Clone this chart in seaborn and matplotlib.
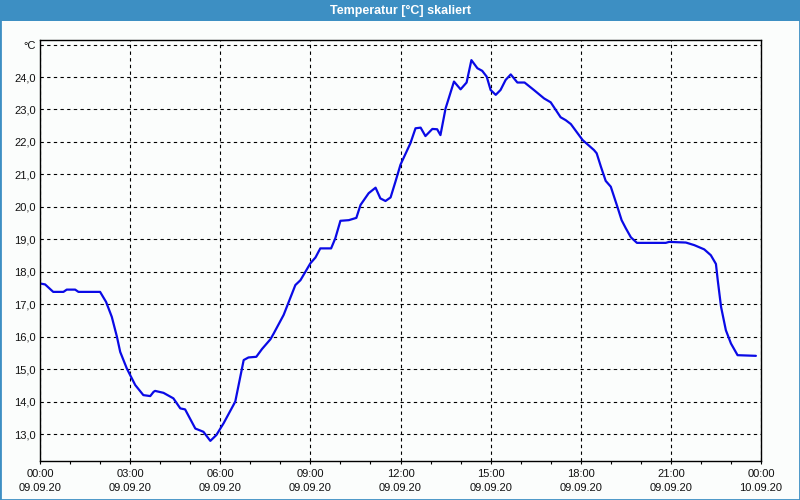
import matplotlib
matplotlib.use("Agg")
import matplotlib.pyplot as plt
from matplotlib.patches import Rectangle
from matplotlib.ticker import FixedLocator, NullFormatter
import seaborn as sns
import pandas as pd

# ---- data ----
hours = [0.0, 0.17, 0.44, 0.78, 0.89, 1.17, 1.28, 2.0, 2.2, 2.39, 2.56, 2.67, 2.89,
         3.17, 3.44, 3.67, 3.78, 3.83, 4.11, 4.44, 4.67, 4.83, 5.17, 5.44, 5.67,
         5.87, 6.11, 6.5, 6.78, 6.94, 7.2, 7.39, 7.67, 7.78, 8.11, 8.5, 8.67, 9.0,
         9.17, 9.33, 9.69, 9.83, 10.0, 10.28, 10.53, 10.67, 10.94, 11.17, 11.33,
         11.5, 11.67, 11.83, 12.0, 12.33, 12.5, 12.67, 12.83, 13.06, 13.22, 13.33,
         13.5, 13.78, 14.0, 14.2, 14.36, 14.56, 14.72, 14.87, 15.0, 15.17, 15.33,
         15.5, 15.67, 15.89, 16.13, 16.44, 16.78, 17.0, 17.33, 17.5, 17.67, 18.06,
         18.44, 18.53, 18.67, 18.83, 19.0, 19.22, 19.36, 19.5, 19.67, 19.87, 20.83,
         20.94, 21.5, 21.78, 22.11, 22.33, 22.5, 22.56, 22.67, 22.83, 23.0, 23.22,
         23.83]
temperature = [17.64, 17.61, 17.38, 17.38, 17.45, 17.45, 17.38, 17.38, 17.07, 16.61,
               16.0, 15.53, 15.02, 14.51, 14.2, 14.17, 14.3, 14.33, 14.27, 14.1,
               13.79, 13.76, 13.17, 13.07, 12.79, 12.97, 13.33, 14.0, 15.28, 15.36,
               15.38, 15.62, 15.92, 16.10, 16.67, 17.59, 17.74, 18.26, 18.44, 18.72,
               18.72, 19.03, 19.57, 19.59, 19.66, 20.06, 20.42, 20.59, 20.26, 20.18,
               20.29, 20.77, 21.30, 21.96, 22.42, 22.44, 22.18, 22.40, 22.39, 22.21,
               23.03, 23.86, 23.62, 23.83, 24.52, 24.27, 24.19, 24.01, 23.60, 23.45,
               23.60, 23.91, 24.08, 23.83, 23.83, 23.60, 23.34, 23.22, 22.76, 22.67,
               22.55, 22.06, 21.75, 21.65, 21.24, 20.80, 20.62, 20.0, 19.59, 19.34,
               19.06, 18.89, 18.89, 18.92, 18.90, 18.82, 18.69, 18.51, 18.24, 17.74,
               16.92, 16.20, 15.79, 15.43, 15.41]

x_tick_hours = [0, 3, 6, 9, 12, 15, 18, 21, 24]
x_tick_labels = ["00:00\n09.09.20", "03:00\n09.09.20", "06:00\n09.09.20",
                 "09:00\n09.09.20", "12:00\n09.09.20", "15:00\n09.09.20",
                 "18:00\n09.09.20", "21:00\n09.09.20", "00:00\n10.09.20"]
y_tick_values = [13, 14, 15, 16, 17, 18, 19, 20, 21, 22, 23, 24, 25]
y_tick_labels = ["13,0", "14,0", "15,0", "16,0", "17,0", "18,0", "19,0", "20,0",
                 "21,0", "22,0", "23,0", "24,0", "°C"]
title = "Temperatur [°C] skaliert"

# ---- style ----
sns.set_style("white")
plt.rcParams["font.family"] = ["Liberation Sans", "DejaVu Sans"]

BG = "#fbfdfc"
BAR = "#3d8fc3"

fig = plt.figure(figsize=(8, 5), dpi=100, facecolor=BG)
ax = fig.add_axes([40 / 800, 1 - 461 / 500, 721 / 800, 421 / 500])
ax.set_facecolor(BG)

df = pd.DataFrame({"h": hours, "t": temperature})
sns.lineplot(data=df, x="h", y="t", ax=ax, color="#0a0ae6", linewidth=1.6,
             sort=False, estimator=None)

ax.set_xlim(0, 24)
ax.set_ylim(12.17, 25.14)
ax.set_xlabel("")
ax.set_ylabel("")

ax.xaxis.set_major_locator(FixedLocator(x_tick_hours))
ax.set_xticklabels(x_tick_labels)
ax.xaxis.set_minor_locator(FixedLocator(list(range(0, 25))))
ax.xaxis.set_minor_formatter(NullFormatter())
ax.set_yticks(y_tick_values)
ax.set_yticklabels(y_tick_labels)

ax.tick_params(axis="x", which="both", direction="out", length=2.5, width=0.8,
               color="black", labelsize=8, labelcolor="#111111", pad=3.5, bottom=True)
ax.tick_params(axis="y", length=0, labelsize=8, labelcolor="#111111", pad=3, left=True)
for lab in ax.get_xticklabels():
    lab.set_linespacing(1.45)

ax.grid(True, which="major", color="black", linestyle=(0, (3, 3)), linewidth=0.8)
for s in ax.spines.values():
    s.set_visible(True)
    s.set_color("black")
    s.set_linewidth(1.0)

# title bar
fig.patches.append(Rectangle((0, 1 - 21 / 500), 1, 21 / 500, transform=fig.transFigure,
                             facecolor=BAR, edgecolor="none", zorder=0))
fig.text(0.5, 1 - 10.5 / 500, title, ha="center", va="center", color="white",
         fontsize=9, fontweight="bold")
# window border
fig.patches.append(Rectangle((0, 0), 1, 1, transform=fig.transFigure,
                             facecolor="none", edgecolor=BAR, linewidth=2, zorder=0))

fig.savefig("out.png", dpi=100, facecolor=BG)
